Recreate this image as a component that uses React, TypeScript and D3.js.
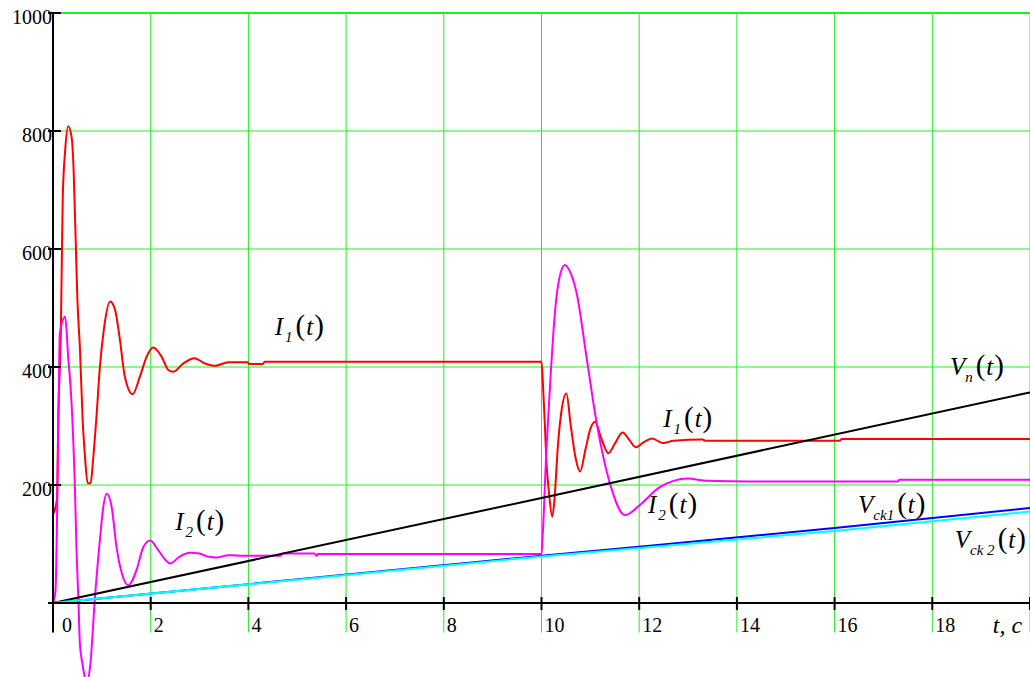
import React, { useRef, useEffect } from "react";
import { select, scaleLinear, line, curveMonotoneX } from "d3";

// axes
const xTicks = [0, 2, 4, 6, 8, 10, 12, 14, 16, 18];
const xGrid = [2, 4, 6, 8, 10, 12, 14, 16, 18, 20];
const yTicks = [0, 200, 400, 600, 800, 1000];
const yLabels = ["", "200", "400", "600", "800", "1000"];
const yGrid = [200, 400, 600, 800, 1000];

// I1(t), red
const i1: [number, number][] = [
  [0, 150], [0.08, 175], [0.11, 322], [0.16, 457], [0.2, 689], [0.25, 768], [0.31, 808],
  [0.38, 790], [0.42, 739], [0.47, 598], [0.5, 513], [0.55, 434], [0.61, 305], [0.65, 254],
  [0.71, 203], [0.77, 203], [0.82, 242], [0.89, 316], [0.96, 400], [1.04, 463], [1.17, 511],
  [1.27, 497], [1.37, 446], [1.47, 384], [1.63, 354], [1.78, 384], [1.92, 418], [2.05, 433],
  [2.22, 418], [2.36, 395], [2.46, 392], [2.67, 406], [2.89, 415], [3.11, 406], [3.32, 402],
  [3.59, 408], [3.98, 408], [4.02, 405], [4.3, 405], [4.33, 409], [10.0, 409],
  [10.03, 370], [10.07, 300], [10.1, 240], [10.15, 190], [10.22, 146], [10.27, 180],
  [10.33, 260], [10.4, 320], [10.51, 355], [10.6, 300], [10.7, 245], [10.79, 223],
  [10.9, 260], [11.0, 295], [11.1, 307], [11.22, 280], [11.37, 254], [11.5, 270],
  [11.66, 289], [11.8, 276], [11.93, 264], [12.1, 273], [12.26, 279], [12.49, 271],
  [12.7, 275], [13.3, 277], [13.35, 275], [16.1, 275], [16.15, 278], [20, 278],
];

// I2(t), magenta
const i2: [number, number][] = [
  [0, 0], [0.05, 20], [0.11, 299], [0.14, 457], [0.25, 485], [0.31, 418], [0.38, 339],
  [0.45, 191], [0.48, 95], [0.52, 5], [0.55, -68], [0.6, -102], [0.65, -125], [0.7, -132],
  [0.76, -108], [0.86, 11], [0.96, 107], [1.03, 163], [1.1, 185], [1.2, 163], [1.3, 95],
  [1.41, 50], [1.54, 30], [1.71, 56], [1.85, 95], [1.99, 106], [2.15, 90], [2.4, 67],
  [2.6, 79], [2.8, 85], [3.0, 84], [3.15, 79], [3.35, 77], [3.59, 81], [3.9, 80],
  [4.65, 80], [4.7, 84], [5.35, 84], [5.4, 80], [5.42, 83], [10.0, 83],
  [10.02, 107], [10.1, 259], [10.19, 390], [10.28, 497], [10.38, 556], [10.48, 573],
  [10.58, 562], [10.72, 525], [10.93, 412], [11.13, 305], [11.4, 203], [11.71, 149],
  [12.0, 165], [12.4, 195], [13.0, 211], [13.38, 207], [14.27, 206], [17.3, 206],
  [17.32, 209], [20, 209],
];

const vn: [number, number][] = [[0, 0], [10, 178], [20, 357]];
const vck1: [number, number][] = [[0, 0], [10, 80], [16, 127], [20, 161]];
const vck2: [number, number][] = [[0, 0], [10, 79], [16, 122], [20, 155]];

const series = [
  { data: i1, color: "#ff0000" },
  { data: i2, color: "#ff00ff" },
  { data: vn, color: "#000000" },
  { data: vck1, color: "#0000ff" },
  { data: vck2, color: "#00ffff" },
];

// curve labels, anchored at data coords (left, baseline)
const curveLabels = [
  { main: "I", sub: "1", t: 4.54, v: 454 },
  { main: "I", sub: "2", t: 2.5, v: 124 },
  { main: "I", sub: "1", t: 12.49, v: 299 },
  { main: "I", sub: "2", t: 12.18, v: 153 },
  { main: "V", sub: "n", t: 18.36, v: 386 },
  { main: "V", sub: "ck1", t: 16.48, v: 153 },
  { main: "V", sub: "ck 2", t: 18.46, v: 93 },
];

const FONT = "'Liberation Serif', 'Times New Roman', serif";

function Chart() {
  const svgRef = useRef<SVGSVGElement>(null);

  useEffect(() => {
    const svg = select(svgRef.current);
    svg.selectAll("*").remove();

    const xscale = scaleLinear().domain([0, 20]).range([53, 1030]);
    const yscale = scaleLinear().domain([0, 1000]).range([603, 13]);
    const yBottom = yscale(-50);

    // grid
    svg.append("g")
      .selectAll("line")
      .data(xGrid)
      .join("line")
      .attr("x1", d => xscale(d)).attr("x2", d => xscale(d))
      .attr("y1", yscale(1000)).attr("y2", yBottom)
      .attr("stroke", "#22ee22").attr("stroke-width", 1);

    svg.append("g")
      .selectAll("line")
      .data(yGrid)
      .join("line")
      .attr("x1", xscale(0)).attr("x2", xscale(20))
      .attr("y1", d => yscale(d)).attr("y2", d => yscale(d))
      .attr("stroke", "#22ee22").attr("stroke-width", d => (d === 1000 ? 2 : 1));

    // curves
    const myLine = line<[number, number]>()
      .x(d => xscale(d[0]))
      .y(d => yscale(d[1]))
      .curve(curveMonotoneX);

    svg.append("g")
      .selectAll("path")
      .data(series)
      .join("path")
      .attr("d", d => myLine(d.data))
      .attr("fill", "none")
      .attr("stroke", d => d.color)
      .attr("stroke-width", 2)
      .attr("stroke-linejoin", "round");

    // axes
    svg.append("line")
      .attr("x1", xscale(0)).attr("x2", xscale(0))
      .attr("y1", yscale(1000) - 1).attr("y2", yBottom)
      .attr("stroke", "black").attr("stroke-width", 2);
    svg.append("line")
      .attr("x1", xscale(0)).attr("x2", xscale(20))
      .attr("y1", yscale(0)).attr("y2", yscale(0))
      .attr("stroke", "black").attr("stroke-width", 2);

    svg.append("g")
      .selectAll("line")
      .data(yTicks)
      .join("line")
      .attr("x1", xscale(0) - 5).attr("x2", xscale(0) + 8)
      .attr("y1", d => yscale(d)).attr("y2", d => yscale(d))
      .attr("stroke", "black").attr("stroke-width", 2);

    svg.append("g")
      .selectAll("line")
      .data(xGrid)
      .join("line")
      .attr("x1", d => xscale(d)).attr("x2", d => xscale(d))
      .attr("y1", yscale(0) - 6).attr("y2", yscale(0) + 7)
      .attr("stroke", "black").attr("stroke-width", 2);

    svg.append("g")
      .selectAll("text")
      .data(yTicks)
      .join("text")
      .attr("x", xscale(0) - 1)
      .attr("y", d => yscale(d) + 11)
      .attr("text-anchor", "end")
      .attr("font-family", FONT)
      .attr("font-size", 20)
      .text((d, i) => yLabels[i]);

    svg.append("g")
      .selectAll("text")
      .data(xTicks)
      .join("text")
      .attr("x", d => xscale(d) + (d === 0 ? 9 : 3))
      .attr("y", yscale(0) + 29)
      .attr("font-family", FONT)
      .attr("font-size", 20)
      .text(d => String(d));

    svg.append("text")
      .attr("x", xscale(19.24))
      .attr("y", yscale(-51))
      .attr("font-family", FONT)
      .attr("font-size", 24)
      .attr("font-style", "italic")
      .text("t, c");

    // curve labels
    curveLabels.forEach(l => {
      const txt = svg.append("text")
        .attr("x", xscale(l.t))
        .attr("y", yscale(l.v))
        .attr("font-family", FONT)
        .attr("font-size", 25);
      txt.append("tspan").attr("font-style", "italic").text(l.main);
      txt.append("tspan")
        .attr("font-style", "italic")
        .attr("font-size", 15)
        .attr("dx", l.main === "V" ? 0 : 2)
        .attr("dy", 7)
        .text(l.sub);
      txt.append("tspan").attr("font-size", 29).attr("dx", 3).attr("dy", -7).text("(");
      txt.append("tspan").attr("font-style", "italic").attr("dx", 1).text("t");
      txt.append("tspan").attr("font-size", 29).attr("dx", 1).text(")");
    });
  }, []);

  return (
    <svg
      ref={svgRef}
      width={1030}
      height={677}
      style={{ position: "absolute", left: 0, top: 0, background: "white" }}
    />
  );
}

export default function App() {
  return (
    <React.Fragment>
      <Chart />
    </React.Fragment>
  );
}
